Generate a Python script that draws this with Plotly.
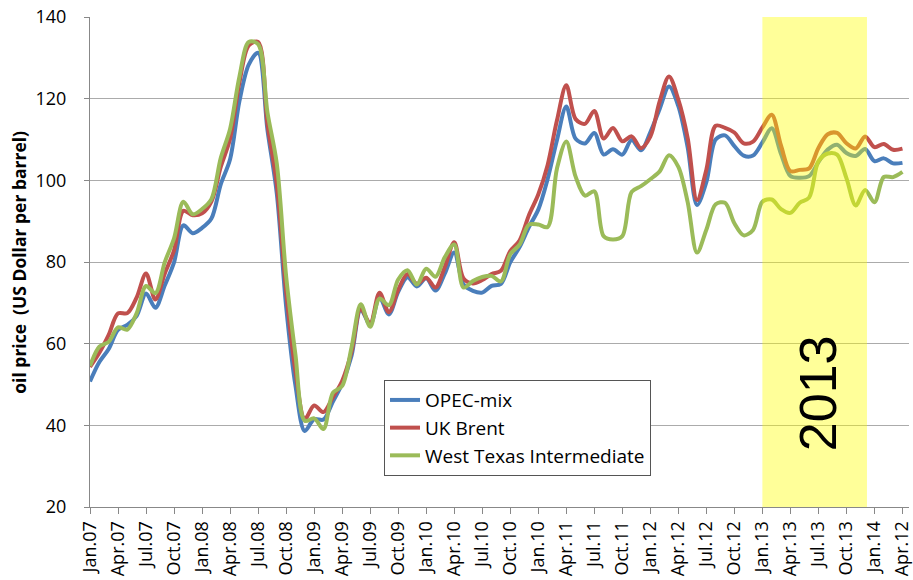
import plotly.graph_objects as go

# Monthly index 0 = Jan 2007 ... 87 = Apr 2014
opec_mix = [50.73, 55.49, 58.70, 63.38, 64.59, 66.83, 72.27, 68.80, 74.22, 79.93, 88.99, 87.05,
            88.35, 90.64, 99.03, 105.16, 119.39, 128.33, 131.22, 112.41, 96.85, 69.16, 49.76, 38.60,
            41.52, 41.41, 45.78, 50.20, 56.98, 68.36, 64.59, 71.35, 67.17, 72.67, 76.29, 74.01,
            76.01, 72.99, 77.21, 82.33, 74.48, 72.95, 72.51, 74.15, 74.63, 79.93, 83.65, 88.56,
            92.83, 100.29, 109.84, 118.09, 110.18, 109.04, 111.62, 106.32, 107.61, 106.29, 109.86, 107.34,
            111.77, 117.48, 122.97, 118.18, 108.07, 93.98, 99.55, 110.03, 111.02, 108.36, 106.04, 106.07,
            109.28, 112.75, 106.44, 101.05, 100.65, 101.03, 104.45, 107.52, 108.73, 106.67, 105.97, 107.67,
            104.71, 105.38, 104.15, 104.27]

uk_brent = [54.30, 57.76, 62.14, 67.40, 67.48, 71.32, 77.20, 70.80, 77.13, 82.86, 92.53, 91.45,
            91.92, 94.82, 103.28, 110.19, 123.94, 133.05, 133.90, 113.85, 99.06, 72.84, 53.24, 41.58,
            44.86, 43.24, 46.84, 50.85, 57.94, 68.59, 64.92, 72.50, 67.69, 73.19, 77.04, 74.67,
            76.17, 73.75, 78.83, 84.82, 75.95, 74.76, 75.58, 77.04, 77.84, 82.67, 85.28, 91.45,
            96.52, 103.72, 114.64, 123.26, 114.99, 113.83, 116.97, 110.22, 112.83, 109.55, 110.77, 107.87,
            110.69, 119.33, 125.45, 119.75, 110.34, 95.16, 102.62, 113.36, 112.86, 111.71, 109.06, 109.49,
            112.96, 116.05, 108.47, 102.25, 102.56, 102.92, 107.93, 111.28, 111.60, 109.08, 107.79, 110.76,
            108.12, 108.90, 107.48, 107.76]

wti = [54.51, 59.28, 60.44, 63.98, 63.45, 67.49, 74.12, 72.36, 79.92, 85.80, 94.77, 91.69,
       92.97, 95.39, 105.45, 112.58, 125.40, 133.88, 133.37, 116.67, 104.11, 76.61, 57.31, 41.12,
       41.71, 39.09, 47.94, 49.65, 59.03, 69.64, 64.15, 71.05, 69.41, 75.72, 77.99, 74.47,
       78.33, 76.39, 81.20, 84.29, 73.74, 75.34, 76.32, 76.60, 75.24, 81.89, 84.25, 89.15,
       89.17, 88.58, 102.86, 109.53, 100.90, 96.26, 97.30, 86.33, 85.52, 86.32, 97.16, 98.56,
       100.27, 102.20, 106.16, 103.32, 94.66, 82.30, 87.90, 94.13, 94.51, 89.49, 86.53, 87.86,
       94.76, 95.31, 92.94, 92.02, 94.51, 95.77, 104.67, 106.57, 106.29, 100.54, 93.86, 97.63,
       94.62, 100.82, 100.80, 102.07]

tick_labels = ["Jan.07", "Apr.07", "Jul.07", "Oct.07", "Jan.08", "Apr.08", "Jul.08", "Oct.08",
               "Jan.09", "Apr.09", "Jul.09", "Oct.09", "Jan.10", "Apr.10", "Jul.10", "Oct.10",
               "Jan.10", "Apr.11", "Jul.11", "Oct.11", "Jan.12", "Apr.12", "Jul.12", "Oct.12",
               "Jan.13", "Apr.13", "Jul.13", "Oct.13", "Jan.14", "Apr.12"]

series_names = ["OPEC-mix", "UK Brent", "West Texas Intermediate"]
highlight_label = "2013"
y_title = "oil price  (US Dollar per barrel)"

months = list(range(len(opec_mix)))
tick_positions = [3 * i for i in range(len(tick_labels))]

FONT = "Open Sans"
colors = ["#4A7EBB", "#C0504D", "#9BBB59"]

fig = go.Figure()
for i, (name, vals) in enumerate(zip(series_names, [opec_mix, uk_brent, wti])):
    fig.add_trace(go.Scatter(
        x=months, y=vals, mode="lines", name=name, legendgroup=name,
        line=dict(color=colors[i], width=4, shape="spline", smoothing=0.9),
    ))

fig.add_shape(type="rect", xref="x", yref="paper", x0=72, x1=83.2, y0=0, y1=1,
              fillcolor="rgba(255,255,0,0.40)", line=dict(width=0), layer="above")

fig.add_annotation(x=77.9, y=48, xref="x", yref="y", text=highlight_label, showarrow=False,
                   textangle=-90, font=dict(family="Liberation Sans", size=52, color="black"))

fig.add_annotation(x=-0.087, y=0.5, xref="paper", yref="paper", text="<b>" + y_title + "</b>",
                   showarrow=False, textangle=-90, xanchor="center", yanchor="middle",
                   font=dict(family=FONT, size=17.5, color="black"))

fig.update_layout(
    width=913, height=580,
    margin=dict(l=90, r=4, t=17, b=73, autoexpand=False),
    paper_bgcolor="white", plot_bgcolor="white",
    showlegend=True,
    legend=dict(x=0.359, y=0.259, xanchor="left", yanchor="top",
                bgcolor="white", bordercolor="#555555", borderwidth=1,
                font=dict(family=FONT, size=19, color="black"),
                tracegroupgap=0),
    xaxis=dict(range=[0, 87.7], tickmode="array", tickvals=tick_positions, ticktext=tick_labels,
               tickangle=-90, ticks="outside", ticklen=6, tickcolor="#888888", automargin=False,
               ticklabeloverflow="allow",
               showline=True, linecolor="#888888", linewidth=1, showgrid=False, zeroline=False,
               tickfont=dict(family=FONT, size=18, color="black")),
    yaxis=dict(range=[20, 140], dtick=20, ticks="outside", ticklen=5, tickcolor="#888888",
               automargin=False, ticklabeloverflow="allow",
               showline=True, linecolor="#888888", linewidth=1,
               showgrid=True, gridcolor="#ABABAB", gridwidth=1, zeroline=False,
               tickfont=dict(family=FONT, size=18, color="black"), ticklabelstandoff=14),
)

# remove the browser's default 8px page margin so the figure sits at the window origin
fig.write_html("out.html", config={"displayModeBar": False},
               post_script="document.body.style.margin='0';")
